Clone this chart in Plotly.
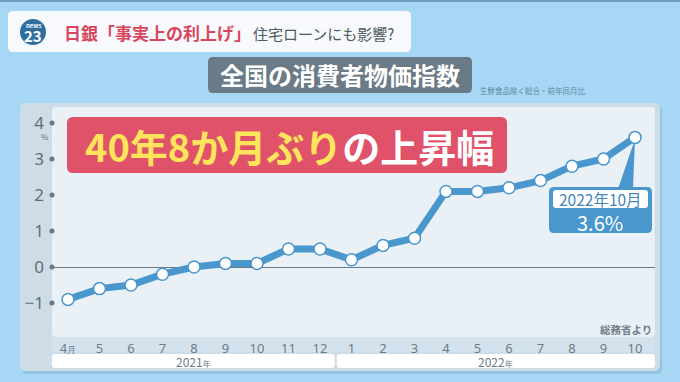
import plotly.graph_objects as go

# ---- data ----
month_labels = ["4", "5", "6", "7", "8", "9", "10", "11", "12",
                "1", "2", "3", "4", "5", "6", "7", "8", "9", "10"]
cpi_values = [-0.9, -0.6, -0.5, -0.2, 0.0, 0.1, 0.1, 0.5, 0.5,
              0.2, 0.6, 0.8, 2.1, 2.1, 2.2, 2.4, 2.8, 3.0, 3.6]
y_ticks = [-1, 0, 1, 2, 3, 4]
y_tick_text = ["−1", "0", "1", "2", "3", "4"]
year_labels = ["2021", "2022"]
year_first_index = [0, 9]
year_last_index = [8, 18]

# ---- layout constants ----
W, H = 680, 382
ML, MR, MT, MB = 52, 25, 107, 45
PW, PH = W - ML - MR, H - MT - MB

BG = "#a6d8f5"
PANEL = "#cddce7"
INNER = "#e9f1f7"
BLUE = "#4a97cd"
GRAY_TXT = "#66757f"
FONT = "Noto Sans CJK JP, Noto Sans, sans-serif"


def px(x):
    return (x - ML) / PW


def py(y):
    return (H - MB - y) / PH


def rrect(x0, y0, x1, y1, r):
    def P(x, y):
        return f"{px(x):.5f},{py(y):.5f}"
    d = (f"M{P(x0 + r, y0)} L{P(x1 - r, y0)} Q{P(x1, y0)} {P(x1, y0 + r)} "
         f"L{P(x1, y1 - r)} Q{P(x1, y1)} {P(x1 - r, y1)} "
         f"L{P(x0 + r, y1)} Q{P(x0, y1)} {P(x0, y1 - r)} "
         f"L{P(x0, y0 + r)} Q{P(x0, y0)} {P(x0 + r, y0)} Z")
    return d


def rshape(x0, y0, x1, y1, r, color, layer="below"):
    return dict(type="path", xref="paper", yref="paper", path=rrect(x0, y0, x1, y1, r),
                fillcolor=color, line=dict(width=0), layer=layer)


x_idx = list(range(len(cpi_values)))
x_range = [-0.508, 18.635]
y_range = [-1.944, 4.444]

fig = go.Figure()

# y tick dots
fig.add_trace(go.Scatter(x=[x_range[0]] * len(y_ticks), y=y_ticks, mode="markers",
                         marker=dict(size=5, color="#6a7984"), cliponaxis=False,
                         hoverinfo="skip", showlegend=False))

# main line
fig.add_trace(go.Scatter(x=x_idx, y=cpi_values, mode="lines+markers",
                         line=dict(color=BLUE, width=7),
                         marker=dict(size=12, color="white", line=dict(color=BLUE, width=1.5)),
                         cliponaxis=False, showlegend=False))

shapes = []
# top thin dark band
shapes.append(dict(type="rect", xref="paper", yref="paper", x0=px(0), x1=px(W), y0=py(0), y1=py(2),
                   fillcolor="#6f9cc0", line=dict(width=0), layer="below"))
# header box
shapes.append(rshape(8, 11, 411, 52, 5, "#f7f9fc"))
# news23 circle
shapes.append(dict(type="circle", xref="paper", yref="paper", x0=px(20), x1=px(46), y0=py(45), y1=py(19),
                   fillcolor="#2f6f9f", line=dict(width=0), layer="below"))
# title gray box
shapes.append(rshape(208, 57, 472, 93, 5, "#6a7a86"))
# panel shadow + panel
shapes.append(rshape(22, 106, 662, 374, 6, "rgba(60,110,150,0.18)"))
shapes.append(rshape(20, 103, 660, 371, 6, PANEL))
# inner plot area
shapes.append(rshape(52, 107, 655, 337, 4, INNER))
# tick band
shapes.append(dict(type="rect", xref="paper", yref="paper", x0=px(52), x1=px(655), y0=py(352), y1=py(337),
                   fillcolor="#d3e2ec", line=dict(width=0), layer="below"))
# year bands
x_step = (655 - 52) / (x_range[1] - x_range[0])


def xdata2px(v):
    return 52 + (v - x_range[0]) * x_step


for a, b in zip(year_first_index, year_last_index):
    left = 52 if a == 0 else (xdata2px(a - 0.5) + 1)
    right = 655 if b == len(cpi_values) - 1 else (xdata2px(b + 0.5) - 1)
    shapes.append(rshape(left, 354, right, 368, 3, "white"))
# red headline box
shapes.append(rshape(67, 117, 507, 173, 6, "#e0526a"))
# callout pointer
shapes.append(dict(type="path", xref="paper", yref="paper",
                   path=f"M{px(618)},{py(189)} L{px(635)},{py(139)} L{px(633)},{py(189)} Z",
                   fillcolor=BLUE, line=dict(width=0), layer="below"))
# callout box
shapes.append(rshape(549, 187, 652, 233, 5, BLUE))
shapes.append(rshape(553, 190, 648, 208, 3, "white"))

annotations = []


def ann(x, y, text, size, color, xanchor="center", family=FONT):
    annotations.append(dict(xref="paper", yref="paper", x=px(x), y=py(y), text=text, showarrow=False,
                            xanchor=xanchor, yanchor="middle",
                            font=dict(size=size, color=color, family=family)))


ann(33, 25.5, "<b>news</b>", 6, "white")
ann(33, 35, "<b>23</b>", 15, "white")
ann(62, 32, "<b>日銀「事実上の利上げ」</b>", 17, "#d8455d", "left")
ann(251, 33, "住宅ローンにも影響?", 15, "#4e5a63", "left")
ann(340, 75, "<b>全国の消費者物価指数</b>", 24, "white")
ann(478, 90, "生鮮食品除く総合・前年同月比", 7.5, "#5f86a3", "left")
ann(289, 145, "<b><span style='color:#ffe45c'>40年8か月ぶり</span>の上昇幅</b>", 38, "white")
ann(600, 199, "2022年10月", 15.5, "#3f86bd")
ann(600, 222, "3.6%", 20, "white")
ann(45, 136, "%", 8, GRAY_TXT)
ann(654, 329, "<b>総務省より</b>", 10.5, "#6f7d87", "right")

for lbl, a, b in zip(year_labels, year_first_index, year_last_index):
    left = 52 if a == 0 else xdata2px(a - 0.5)
    right = 655 if b == len(cpi_values) - 1 else xdata2px(b + 0.5)
    ann((left + right) / 2, 361.5, f"{lbl}<span style='font-size:8px'>年</span>", 12, "#6d7c86")

tick_text = [f"{m}<span style='font-size:9px'>月</span>" if i == 0 else m
             for i, m in enumerate(month_labels)]

fig.update_layout(
    width=W, height=H,
    margin=dict(l=ML, r=MR, t=MT, b=MB, pad=0),
    paper_bgcolor=BG, plot_bgcolor="rgba(0,0,0,0)",
    font=dict(family=FONT),
    shapes=shapes, annotations=annotations,
    xaxis=dict(range=x_range, tickmode="array", tickvals=x_idx, ticktext=tick_text,
               showgrid=False, zeroline=False, showline=False, ticks="",
               tickfont=dict(size=13, color="#6d7c86", family="Noto Sans, sans-serif"),
               ticklabelstandoff=2, fixedrange=True),
    yaxis=dict(range=y_range, tickmode="array", tickvals=y_ticks, ticktext=y_tick_text,
               showgrid=False, zeroline=True, zerolinecolor="#6c7a83", zerolinewidth=1,
               showline=False, ticks="",
               tickfont=dict(size=17, color="#5f6e78", family="Noto Sans, sans-serif"),
               ticklabelstandoff=7, fixedrange=True),
    showlegend=False,
)

fig.write_html("out.html", config={"displayModeBar": False},
               post_script="document.body.style.margin='0';document.body.style.padding='0';")
